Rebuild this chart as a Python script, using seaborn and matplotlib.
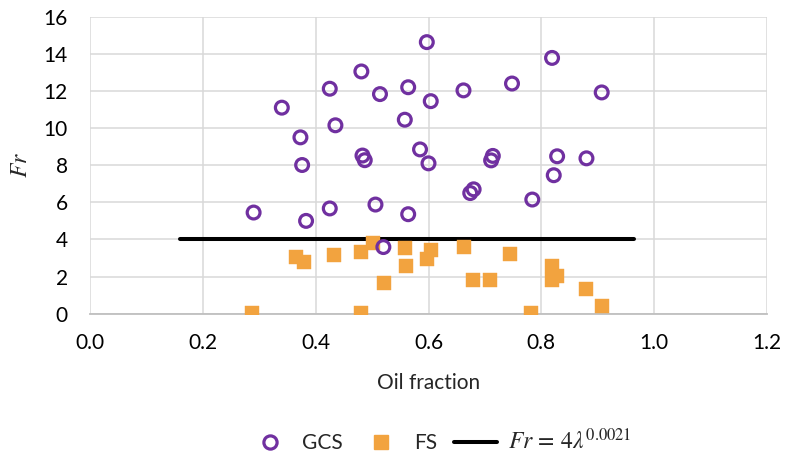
import matplotlib
matplotlib.use("Agg")
import matplotlib.pyplot as plt
import seaborn as sns
import pandas as pd
from matplotlib.lines import Line2D

# GCS (open purple circles)
gcs_x = [0.597, 0.481, 0.425, 0.514, 0.564, 0.604, 0.662, 0.748, 0.340, 0.435,
         0.558, 0.373, 0.483, 0.487, 0.585, 0.600, 0.714, 0.711, 0.376, 0.680,
         0.674, 0.784, 0.506, 0.819, 0.907, 0.828, 0.880, 0.822, 0.290, 0.383,
         0.425, 0.564, 0.520]
gcs_y = [14.63, 13.05, 12.12, 11.83, 12.20, 11.45, 12.03, 12.40, 11.10, 10.15,
         10.45, 9.50, 8.52, 8.27, 8.85, 8.10, 8.50, 8.26, 8.01, 6.70,
         6.50, 6.15, 5.88, 13.78, 11.92, 8.48, 8.37, 7.46, 5.45, 5.00,
         5.67, 5.36, 3.59]

# FS (filled orange squares)
fs_x = [0.287, 0.365, 0.380, 0.432, 0.481, 0.502, 0.481, 0.521, 0.558, 0.561,
        0.604, 0.598, 0.663, 0.678, 0.709, 0.745, 0.782, 0.819, 0.819, 0.828,
        0.880, 0.908]
fs_y = [0.06, 3.05, 2.76, 3.14, 3.32, 3.80, 0.06, 1.65, 3.53, 2.56,
        3.42, 2.94, 3.60, 1.83, 1.83, 3.22, 0.06, 2.56, 1.81, 2.03,
        1.34, 0.43]

# Fr = 4*lambda^0.0021 line
line_x = [0.16, 0.965]
line_y = [4.0, 4.0]

x_ticks = [0.0, 0.2, 0.4, 0.6, 0.8, 1.0, 1.2]
y_ticks = [0, 2, 4, 6, 8, 10, 12, 14, 16]

purple = "#7030A0"
orange = "#F2A33F"

sns.set_theme(style="white")
plt.rcParams['font.family'] = ['Lato', 'DejaVu Sans']
plt.rcParams['mathtext.fontset'] = 'stix'

fig = plt.figure(figsize=(7.85, 4.59), dpi=100)
ax = fig.add_axes([90/785, 1-313.7/459, (767-90)/785, (313.7-16.7)/459])

gcs_df = pd.DataFrame({"x": gcs_x, "y": gcs_y})
fs_df = pd.DataFrame({"x": fs_x, "y": fs_y})
line_df = pd.DataFrame({"x": line_x, "y": line_y})

sns.lineplot(data=line_df, x="x", y="y", ax=ax, color="black", linewidth=2.9, zorder=3)
sns.scatterplot(data=fs_df, x="x", y="y", ax=ax, marker="s", s=95,
                color=orange, edgecolor=orange, linewidth=0.3, zorder=4)
sns.scatterplot(data=gcs_df, x="x", y="y", ax=ax, marker="o", s=85,
                facecolor="none", edgecolor=purple, linewidth=2.3, zorder=5)

ax.set_xlim(0, 1.2)
ax.set_ylim(0, 16)
ax.set_xticks(x_ticks)
ax.set_xticklabels([f"{v:.1f}" for v in x_ticks])
ax.set_yticks(y_ticks)
ax.set_yticklabels([str(v) for v in y_ticks])
ax.grid(True, color="#D9D9D9", linewidth=1.1)
ax.set_axisbelow(True)
for side in ["top", "right", "left"]:
    ax.spines[side].set_visible(False)
ax.spines["bottom"].set_color("#BFBFBF")
ax.spines["bottom"].set_linewidth(1.3)
ax.spines["bottom"].set_zorder(2)
ax.tick_params(axis="both", length=0, labelsize=15, colors="#000000")
ax.tick_params(axis="y", pad=16)
ax.tick_params(axis="x", pad=14)
ax.set_xlabel("Oil fraction", fontsize=15, labelpad=14)
ax.set_ylabel("$Fr$", fontsize=17, labelpad=9)

handles = [
    Line2D([], [], linestyle="none", marker="o", markersize=9.5, markerfacecolor="none",
           markeredgecolor=purple, markeredgewidth=2.3),
    Line2D([], [], linestyle="none", marker="s", markersize=9.5, markerfacecolor=orange,
           markeredgecolor=orange),
    Line2D([], [], color="black", linewidth=2.9),
]
labels = ["GCS", "FS", r"$Fr\,=\,4\lambda^{0.0021}$"]
leg = fig.legend(handles, labels, loc="center", bbox_to_anchor=(0.56, 1-440/459), ncol=3,
                 frameon=False, fontsize=15, handlelength=2.1, columnspacing=0.8,
                 handletextpad=0.5)
leg.get_texts()[2].set_fontsize(17)

fig.savefig("out.png", dpi=100)
